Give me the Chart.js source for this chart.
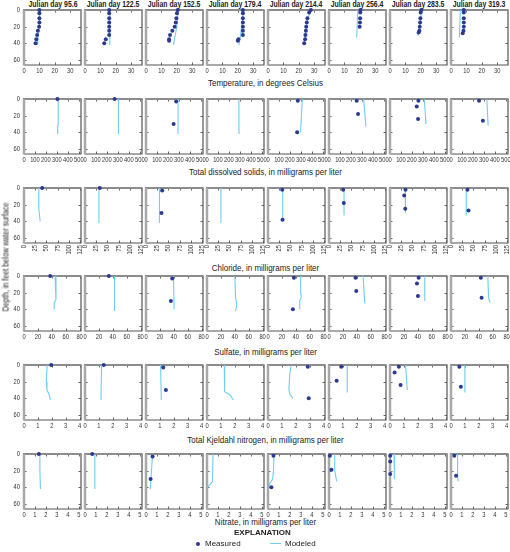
<!DOCTYPE html>
<html>
<head>
<meta charset="utf-8">
<script src="https://cdn.jsdelivr.net/npm/chart.js@4.4.0/dist/chart.umd.min.js"></script>
<style>
body { margin: 0; background: #fff; width: 510px; height: 552px; position: relative; overflow: hidden;
       font-family: "Liberation Sans", Arial, sans-serif; color: #222; }
canvas { position: absolute; }
.hdr { position: absolute; top: 0; width: 70px; text-align: center; font-weight: bold; font-size: 8.6px; line-height: 9px;
       white-space: nowrap; transform: scaleX(0.8); }
.ttl { position: absolute; left: 0; width: 531px; text-align: center; font-size: 8.6px; line-height: 9px; white-space: nowrap;
       transform: scaleX(0.93); }
.ytitle { position: absolute; left: 6px; top: 257px; font-size: 8.4px; line-height: 9px; white-space: nowrap;
          transform: translate(-50%, -50%) rotate(-90deg) scaleX(0.86); }
.legend { position: absolute; font-size: 8px; line-height: 9px; white-space: nowrap; }
</style>
</head>
<body>
<div id="root"></div>
<script>
// Julian days (one column each)
const days = ['95.6', '122.5', '152.5', '179.4', '214.4', '256.4', '283.5', '319.3'];
const depthTicks = [0, 20, 40, 60];

// each series: one list of [value, depth] pairs per Julian day
const tempMeasured = [
    [[10,0],[10,4],[10,10],[10,15],[9.8,20],[9,25],[8.5,30],[8,35],[7.5,40]],
    [[15.7,0],[15.7,4],[15.7,10],[15.7,15],[15.7,20],[15.7,25],[15.7,30],[13.5,35],[12.5,40]],
    [[20.6,0],[20.1,4],[19.7,10],[19.3,15],[18.6,20],[17.1,25],[15.6,30],[15,35],[15,37]],
    [[23.3,0],[23.3,4],[23.3,10],[23.3,15],[23.3,20],[23.3,25],[23.3,30],[20.4,35],[20,37]],
    [[27.8,0],[26.7,3],[25.6,10],[25.2,15],[24.8,20],[24.6,25],[24.3,30],[24.1,35],[23.5,40]],
    [[20.4,0],[20.3,3],[20.2,10],[20.1,15],[19.9,20]],
    [[20.3,0],[19.9,3],[19.7,10],[19.5,15],[19.3,20],[19.1,25],[18.6,27]],
    [[8.3,0],[8.3,3],[8.3,10],[8.3,15],[8.3,20],[8.1,25],[7.6,28]]
];
const tempModeled = [
    [[10.3,0],[10,15],[9.5,25],[9,35],[8.8,42]],
    [[16.1,0],[16.1,42]],
    [[21,0],[20,20],[17.8,42]],
    [[23.8,0],[21.8,30],[20.7,42]],
    [[28.2,0],[25.5,10],[24.5,25],[23.4,40]],
    [[18.7,0],[18,33]],
    [[20.6,0],[18.2,31]],
    [[6.1,0],[5.4,33]]
];

const tdsMeasured = [
    [[305,0]],
    [[270,0]],
    [[275,3],[252,30]],
    [],
    [[272,2],[266,40]],
    [[253,2],[265,18]],
    [[259,2],[244,9],[256,24]],
    [[256,2],[291,26]]
];
const tdsModeled = [
    [[312,0],[312,30],[307,33],[307,42]],
    [[305,0],[305,42]],
    [[292,0],[292,42]],
    [[291,0],[291,35],[293,42]],
    [[313,0],[297,40]],
    [[316,0],[337,33]],
    [[313,0],[328,30]],
    [[327,0],[339,32]]
];

const chlMeasured = [
    [[40.5,0]],
    [[33,0]],
    [[36,3],[34.5,30]],
    [],
    [[31.7,2],[32.4,38]],
    [[31.6,2],[33,18]],
    [[34.6,2],[31.6,9],[34,25]],
    [[36.7,2],[39,27]]
];
const chlModeled = [
    [[33,0],[33,25],[36,40]],
    [[31,0],[31,42]],
    [[30,0],[30,42]],
    [[31,0],[31,42]],
    [[32.9,0],[32.9,38]],
    [[33.5,0],[33.5,33]],
    [[34,0],[34.5,30]],
    [[34,0],[34,33]]
];

const so4Measured = [
    [[37.7,0]],
    [[34.3,0]],
    [[37.7,3],[35.8,30]],
    [],
    [[37.3,2],[35.8,40]],
    [[38.2,2],[39.2,18]],
    [[41.2,2],[38.8,9],[40.2,24]],
    [[43,2],[44,26]]
];
const so4Modeled = [
    [[44.7,0],[46,12],[46,28],[43.5,32],[43.5,40]],
    [[42.4,0],[42.4,42]],
    [[39.5,0],[40.5,40]],
    [[40,0],[41,25],[43,35],[41,42]],
    [[47,0],[47,20],[48,25],[45.6,30],[45.6,40]],
    [[49,0],[51.5,33]],
    [[50,0],[50,30]],
    [[53,0],[54,25],[56,32]]
];

const tknMeasured = [
    [[1.96,0]],
    [[1.35,0]],
    [[1.24,3],[1.43,30]],
    [],
    [[2.86,2],[2.93,40]],
    [[0.88,2],[0.55,19]],
    [[0.64,2],[0.33,9],[0.76,24]],
    [[0.6,2],[0.71,26]]
];
const tknModeled = [
    [[1.67,0],[1.6,20],[1.65,30],[1.8,35],[1.9,42]],
    [[1.19,0],[1.15,42]],
    [[1.05,0],[1.1,42]],
    [[1.24,0],[1.27,32],[1.66,36],[1.9,42]],
    [[1.67,0],[1.57,10],[1.5,30],[1.6,36],[1.8,40]],
    [[1.31,0],[1.31,33]],
    [[1.12,0],[1.24,30]],
    [[1.0,0],[1.0,33]]
];

const no3Measured = [
    [[1.36,0]],
    [[0.66,0]],
    [[0.6,3],[0.42,30]],
    [],
    [[0.5,2],[0.31,40]],
    [[0.08,2],[0.22,19]],
    [[0.02,2],[0.02,9],[0.02,24]],
    [[0.3,2],[0.46,26]]
];
const no3Modeled = [
    [[1.45,0],[1.45,20],[1.5,42]],
    [[0.9,0],[0.9,42]],
    [[0.6,0],[0.5,20],[0.4,42]],
    [[0.55,0],[0.5,33],[0.24,37],[0.03,40]],
    [[0.55,0],[0.5,20],[0.42,30],[0.1,37],[0.24,40]],
    [[0.52,0],[0.52,20],[0.7,33]],
    [[0.37,0],[0.43,25],[0.37,30]],
    [[0.6,0],[0.6,25],[0.65,33]]
];

const tempTicks = [0, 10, 20, 30];
const tdsTicks = [0, 100, 200, 300, 400, 500];
const chlTicks = [0, 25, 50, 75, 100, 125];
const so4Ticks = [0, 20, 40, 60, 80];
const tknTicks = [0, 1, 2, 3, 4];
const no3Ticks = [0, 1, 2, 3, 4, 5];

const rows = [
    { title: 'Temperature, in degrees Celsius', meas: tempMeasured, model: tempModeled, ticks: tempTicks, max: 37, top: 10, titleY: 83 },
    { title: 'Total dissolved solids, in milligrams per liter', meas: tdsMeasured, model: tdsModeled, ticks: tdsTicks, max: 520, top: 99, titleY: 172 },
    { title: 'Chloride, in milligrams per liter', meas: chlMeasured, model: chlModeled, ticks: chlTicks, max: 127, top: 188, titleY: 268, rot: true },
    { title: 'Sulfate, in milligrams per liter', meas: so4Measured, model: so4Modeled, ticks: so4Ticks, max: 82, top: 276, titleY: 352 },
    { title: 'Total Kjeldahl nitrogen, in milligrams per liter', meas: tknMeasured, model: tknModeled, ticks: tknTicks, max: 4.1, top: 365, titleY: 440 },
    { title: 'Nitrate, in milligrams per liter', meas: no3Measured, model: no3Modeled, ticks: no3Ticks, max: 5.2, top: 454, titleY: 522 }
];

const FONT = '"Liberation Sans", Arial, sans-serif';
const PW = 57, PH = 55, PITCH = 60.93, X0 = 24;
const PAD_L = 16, PAD_T = 4, PAD_R = 4;
const NARROW = 0.78;

// frame, inward tick marks on all four sides, and condensed tick labels
const framePlugin = {
    id: 'frame',
    beforeDatasetsDraw(chart, args, opts) {
        const { ctx, chartArea: a, scales: { x, y } } = chart;
        ctx.save();
        ctx.strokeStyle = '#666';
        ctx.lineWidth = 1;
        x.ticks.forEach(t => {
            const px = Math.round(x.getPixelForValue(t.value)) + 0.5;
            ctx.beginPath();
            ctx.moveTo(px, a.bottom); ctx.lineTo(px, a.bottom - 2.5);
            ctx.moveTo(px, a.top); ctx.lineTo(px, a.top + 2.5);
            ctx.stroke();
        });
        y.ticks.forEach(t => {
            const py = Math.round(y.getPixelForValue(t.value)) + 0.5;
            ctx.beginPath();
            ctx.moveTo(a.left, py); ctx.lineTo(a.left + 2.5, py);
            ctx.moveTo(a.right, py); ctx.lineTo(a.right - 2.5, py);
            ctx.stroke();
        });
        ctx.lineWidth = 1.2;
        ctx.strokeStyle = '#555';
        ctx.beginPath();
        ctx.moveTo(a.right, a.top); ctx.lineTo(a.right, a.bottom); ctx.lineTo(a.left, a.bottom);
        ctx.stroke();
        ctx.lineWidth = 2;
        ctx.strokeStyle = '#8c8c8c';
        ctx.beginPath();
        ctx.moveTo(a.left - 1, a.top); ctx.lineTo(a.right + 0.6, a.top);
        ctx.stroke();
        ctx.lineWidth = 2.5;
        ctx.strokeStyle = '#a8a8a8';
        ctx.beginPath();
        ctx.moveTo(a.left, a.top); ctx.lineTo(a.left, a.bottom + 0.6);
        ctx.stroke();

        ctx.fillStyle = '#333';
        ctx.font = '7.4px ' + FONT;
        x.ticks.forEach(t => {
            const px = x.getPixelForValue(t.value);
            ctx.save();
            if (opts.rot) {
                ctx.translate(px, a.bottom + 2);
                ctx.rotate(-Math.PI / 2);
                ctx.scale(NARROW, 1);
                ctx.textAlign = 'right';
                ctx.textBaseline = 'middle';
            } else {
                ctx.translate(px, a.bottom + 2);
                ctx.scale(NARROW, 1);
                ctx.textAlign = 'center';
                ctx.textBaseline = 'top';
            }
            ctx.fillText(String(t.value), 0, 0);
            ctx.restore();
        });
        if (opts.yLabels) {
            y.ticks.forEach(t => {
                const py = y.getPixelForValue(t.value);
                ctx.save();
                ctx.translate(a.left - 4, py);
                ctx.scale(NARROW, 1);
                ctx.textAlign = 'right';
                ctx.textBaseline = 'middle';
                ctx.fillText(String(t.value), 0, 0);
                ctx.restore();
            });
        }
        ctx.restore();
    }
};

const root = document.getElementById('root');

days.forEach((d, c) => {
    const h = document.createElement('div');
    h.className = 'hdr';
    h.style.left = (X0 + c * PITCH + PW / 2 - 35) + 'px';
    h.textContent = 'Julian day ' + d;
    root.appendChild(h);
});

rows.forEach((row, r) => {
    const padB = row.rot ? 18 : 12;
    const t = document.createElement('div');
    t.className = 'ttl';
    t.style.top = (row.titleY - 4.5) + 'px';
    t.textContent = row.title;
    root.appendChild(t);

    days.forEach((d, c) => {
        const cv = document.createElement('canvas');
        cv.width = PW + PAD_L + PAD_R;
        cv.height = PH + PAD_T + padB;
        cv.style.left = (X0 + c * PITCH - PAD_L) + 'px';
        cv.style.top = (row.top - PAD_T) + 'px';
        root.appendChild(cv);

        new Chart(cv, {
            type: 'scatter',
            data: {
                datasets: [{
                    data: row.meas[c].map(p => ({ x: p[0], y: p[1] })),
                    backgroundColor: '#2b3990',
                    borderWidth: 0,
                    pointRadius: 2,
                    order: 0
                }, {
                    data: row.model[c].map(p => ({ x: p[0], y: p[1] })),
                    showLine: true,
                    borderColor: '#6fcdf2',
                    borderWidth: 1.1,
                    pointRadius: 0,
                    order: 1
                }]
            },
            options: {
                responsive: false,
                animation: false,
                clip: false,
                events: [],
                layout: { padding: { top: PAD_T, right: PAD_R, left: 0, bottom: 0 } },
                plugins: {
                    legend: { display: false },
                    tooltip: { enabled: false },
                    frame: { rot: !!row.rot, yLabels: c === 0 }
                },
                scales: {
                    x: {
                        type: 'linear', min: 0, max: row.max,
                        grid: { display: false }, border: { display: false },
                        afterBuildTicks: s => { s.ticks = row.ticks.map(v => ({ value: v })); },
                        afterFit: s => { s.height = padB; },
                        ticks: { display: false }
                    },
                    y: {
                        type: 'linear', reverse: true, min: 0, max: 66,
                        grid: { display: false }, border: { display: false },
                        afterBuildTicks: s => { s.ticks = depthTicks.map(v => ({ value: v })); },
                        afterFit: s => { s.width = PAD_L; },
                        ticks: { display: false }
                    }
                }
            },
            plugins: [framePlugin]
        });
    });
});

const yt = document.createElement('div');
yt.className = 'ytitle';
yt.textContent = 'Depth, in feet below water surface';
root.appendChild(yt);
</script>
<div class="legend" style="left:234px; top:528px; font-weight:bold;">EXPLANATION</div>
<div class="legend" style="left:196px; top:539px;">
  <span style="display:inline-block;width:4px;height:4px;border-radius:50%;background:#2b3990;vertical-align:middle;margin-right:5px;"></span>Measured
</div>
<div class="legend" style="left:270px; top:539px;">
  <span style="display:inline-block;width:11px;height:0;border-top:1.2px solid #6fcdf2;vertical-align:middle;margin-right:4px;"></span>Modeled
</div>
</body>
</html>
